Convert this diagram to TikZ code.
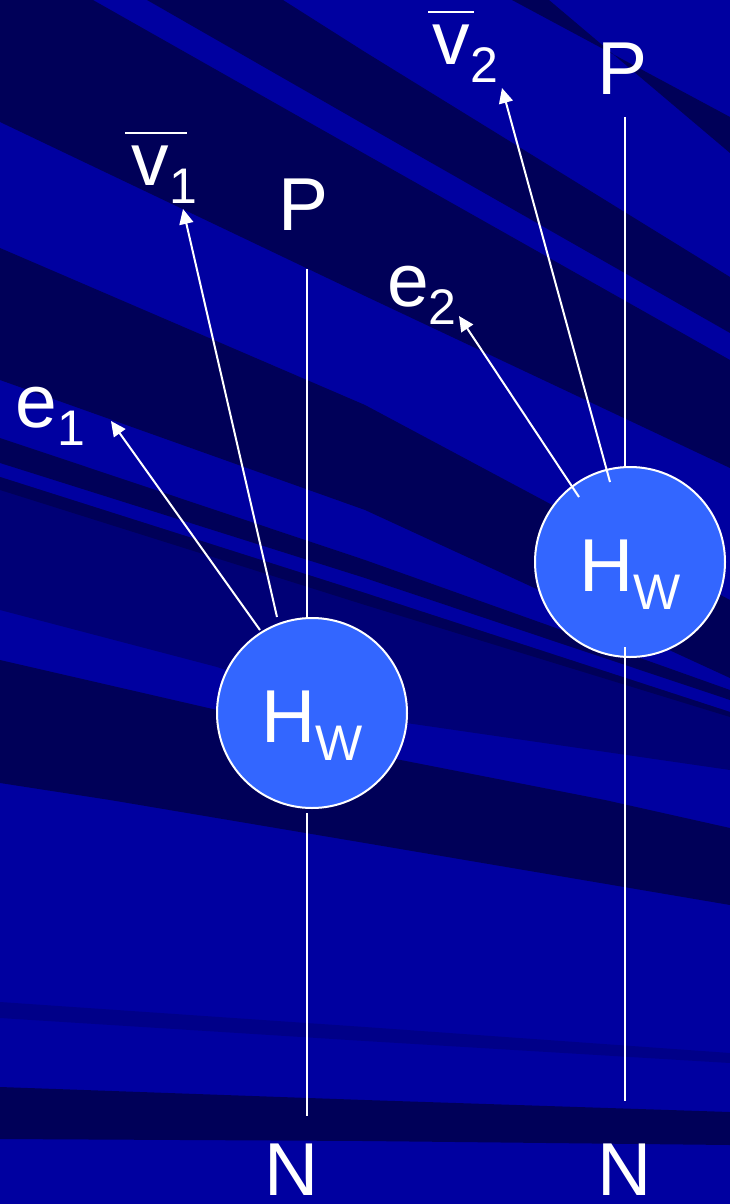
\documentclass[tikz,border=0pt]{standalone}
\usepackage{fontspec}
\setmainfont{Liberation Sans}
\usetikzlibrary{arrows.meta,calc}
\definecolor{bgL}{RGB}{0,0,160}
\definecolor{bgD}{RGB}{0,0,88}
\definecolor{bgM}{RGB}{0,0,118}
\definecolor{bgT}{RGB}{0,0,136}
\definecolor{hwblue}{RGB}{51,102,255}
\newcommand\sbs[1]{\raisebox{-18pt}{\fontsize{50}{50}\selectfont #1}}
\newcommand\vbar[2]{\rlap{\kern#1\raisebox{51.5pt}{\rule{#2}{2pt}}}}
\begin{document}
\begin{tikzpicture}[x=1pt,y=-1pt,
  lab/.style={text=white,font=\fontsize{75}{75}\selectfont,inner sep=0pt,outer sep=0pt},
  hw/.style={circle,draw=white,line width=2pt,fill=hwblue,minimum size=190pt,inner sep=0pt,
    text=white,font=\fontsize{75}{75}\selectfont,text height=58pt,text depth=0pt},
  wire/.style={draw=white,line width=2pt},
  arr/.style={wire,-{Triangle[length=15pt,width=14pt]}}]
\useasboundingbox (0,0) rectangle (730,1204);
% background stripes
\fill[bgL] (0,0) rectangle (730,1204);
\fill[bgD] (512,0) -- (549,0) -- (730,153) -- (730,117) -- cycle;
\fill[bgD] (283,0) -- (365,52) -- (730,277) -- (730,333) -- (365,125) -- (147,0) -- cycle;
\fill[bgD] (0,0) -- (93,0) -- (365,154) -- (730,360) -- (730,468) -- (365,296) -- (0,122) -- cycle;
\fill[bgD] (0,248) -- (365,405) -- (730,600) -- (730,678) -- (365,510) -- (0,380) -- cycle;
\fill[bgD] (0,438) -- (365,560) -- (730,690) -- (730,700) -- (365,578) -- (0,463) -- cycle;
\fill[bgM] (0,477) -- (365,593) -- (730,712) -- (730,770) -- (365,717) -- (217,667) -- (0,610) -- cycle;
\fill[bgD] (0,477) -- (365,593) -- (730,712) -- (730,717) -- (365,605) -- (0,490) -- cycle;
\fill[bgD] (0,660) -- (217,710) -- (365,753) -- (605,800) -- (730,828) -- (730,905) -- (365,843) -- (110,800) -- (0,783) -- cycle;
\fill[bgT] (0,1002) -- (365,1027) -- (730,1053) -- (730,1063) -- (365,1041) -- (0,1018) -- cycle;
\fill[bgD] (0,1087) -- (365,1100) -- (730,1112) -- (730,1145) -- (365,1141) -- (0,1139) -- cycle;
% circles
\node[hw] (h1) at (312,713) {H\sbs{W}};
\node[hw] (h2) at (630,562) {H\sbs{W}};
% labels
\node[lab,anchor=base] (P1) at (304,230) {P};
\node[lab,anchor=base] (P2) at (623,95) {P};
\node[lab,anchor=base] (N1) at (292,1195) {N};
\node[lab,anchor=base] (N2) at (625,1195) {N};
\node[lab,anchor=base west] (e1) at (16,427) {e\sbs{1}};
\node[lab,anchor=base west] (e2) at (387,306) {e\sbs{2}};
\node[lab,anchor=base west] (v1) at (131.5,185) {\vbar{-6.5pt}{62pt}v\sbs{1}};
\node[lab,anchor=base west] (v2) at (432.5,65) {\vbar{-4.5pt}{46pt}v\sbs{2}};
% free ends
\coordinate (t1) at (307,269);
\coordinate (b1) at (307,1116);
\coordinate (t2) at (625,117);
\coordinate (b2) at (625,1101);
\coordinate (e1tip) at (111,421);
\coordinate (v1tip) at (183,209);
\coordinate (e2tip) at (459,316);
\coordinate (v2tip) at (502,88);
% connectors
\draw[wire] (t1) -- ($(h1.center)+(-5,-96)$);
\draw[wire] ($(h1.center)+(-5,100)$) -- (b1);
\draw[arr] ($(h1.center)+(-52,-83)$) -- (e1tip);
\draw[arr] ($(h1.center)+(-35,-96)$) -- (v1tip);
\draw[wire] (t2) -- ($(h2.center)+(-5,-96)$);
\draw[wire] ($(h2.center)+(-5,85)$) -- (b2);
\draw[arr] ($(h2.center)+(-51,-65)$) -- (e2tip);
\draw[arr] ($(h2.center)+(-20,-80)$) -- (v2tip);
\end{tikzpicture}
\end{document}
